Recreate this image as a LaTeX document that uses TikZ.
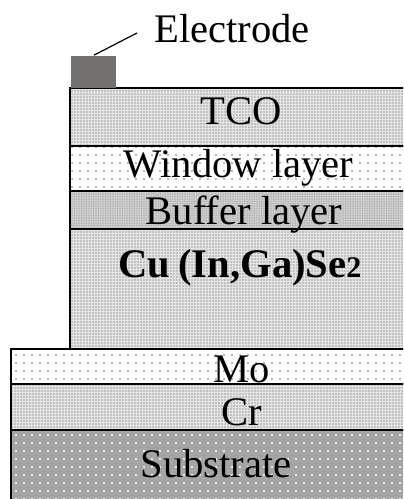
\documentclass[tikz,border=0pt]{standalone}
\usepackage{fontspec}
\setmainfont{Liberation Serif}
\usepackage{tikz}
\usetikzlibrary{patterns,positioning}
\definecolor{elecgray}{RGB}{115,112,112}
\definecolor{subgray}{RGB}{165,165,165}
\definecolor{finebg}{RGB}{228,228,228}
\definecolor{bufbg}{RGB}{205,205,205}
\definecolor{dotgray}{RGB}{160,160,160}
% dot patterns
\pgfdeclarepatternformonly{finedots}{\pgfqpoint{-1pt}{-1pt}}{\pgfqpoint{1pt}{1pt}}{\pgfqpoint{1.5pt}{1.5pt}}%
  {\pgfpathcircle{\pgfqpoint{0pt}{0pt}}{0.45pt}\pgfusepath{fill}}
\pgfdeclarepatternformonly{sparsedots}{\pgfqpoint{-1pt}{-1pt}}{\pgfqpoint{1pt}{1pt}}{\pgfqpoint{4pt}{4pt}}%
  {\pgfpathcircle{\pgfqpoint{0pt}{0pt}}{0.55pt}\pgfusepath{fill}}
\pgfdeclarepatternformonly{bufdots}{\pgfqpoint{-1pt}{-1pt}}{\pgfqpoint{1pt}{1pt}}{\pgfqpoint{1.2pt}{1.2pt}}%
  {\pgfpathcircle{\pgfqpoint{0pt}{0pt}}{0.4pt}\pgfusepath{fill}}

\begin{document}
\begin{tikzpicture}[
  x=0.5pt, y=0.5pt,
  font=\fontsize{20.3}{24}\selectfont,
  layer/.style={draw=black, line width=1pt},
  fine/.style={preaction={fill=finebg}, pattern=finedots, pattern color=dotgray},
  sparse/.style={preaction={fill=white}, pattern=sparsedots, pattern color=dotgray},
  buf/.style={preaction={fill=bufbg}, pattern=bufdots, pattern color=gray!60},
  sub/.style={preaction={fill=subgray}, pattern=sparsedots, pattern color=white},
  lbl/.style={anchor=base, inner sep=0pt}
]
\useasboundingbox (0,0) rectangle (403,499);
\clip (0,0) rectangle (403,499);

% lower stack
\path[layer, sub] (11,-10) rectangle (420,69);
\path[layer, fine] (11,69) rectangle (420,115);
\path[layer, sparse] (11,115) rectangle (420,150);

% upper stack
\path[layer, fine] (70,150) rectangle (420,270);
\path[layer, buf] (70,270) rectangle (420,308);
\path[layer, sparse] (70,308) rectangle (420,353);
\path[layer, fine] (70,353) rectangle (420,411);

% electrode
\node[fill=elecgray, inner sep=0pt, minimum width=22.5pt, minimum height=16pt, anchor=south west] (electrode) at (71,411) {};
\coordinate (lead) at (137,466);
\draw[line width=0.6pt] (electrode.north) -- (lead);

% labels
\node[lbl] (elabel) at (232,456) {Electrode};
\node[lbl] (tco) at (241,374) {TCO};
\node[lbl] (window) at (238.5,321) {Window layer};
\node[lbl] (buffer) at (244,274) {Buffer layer};
\node[lbl] (cigs) at (240,221) {\textbf{Cu\hspace{4pt}(In,Ga)Se{\fontsize{15}{18}\selectfont 2}}};
\node[lbl] (mo) at (242,116) {Mo};
\node[lbl] (cr) at (242,74) {Cr};
\node[lbl] (substrate) at (216,21) {Substrate};
\end{tikzpicture}
\end{document}
